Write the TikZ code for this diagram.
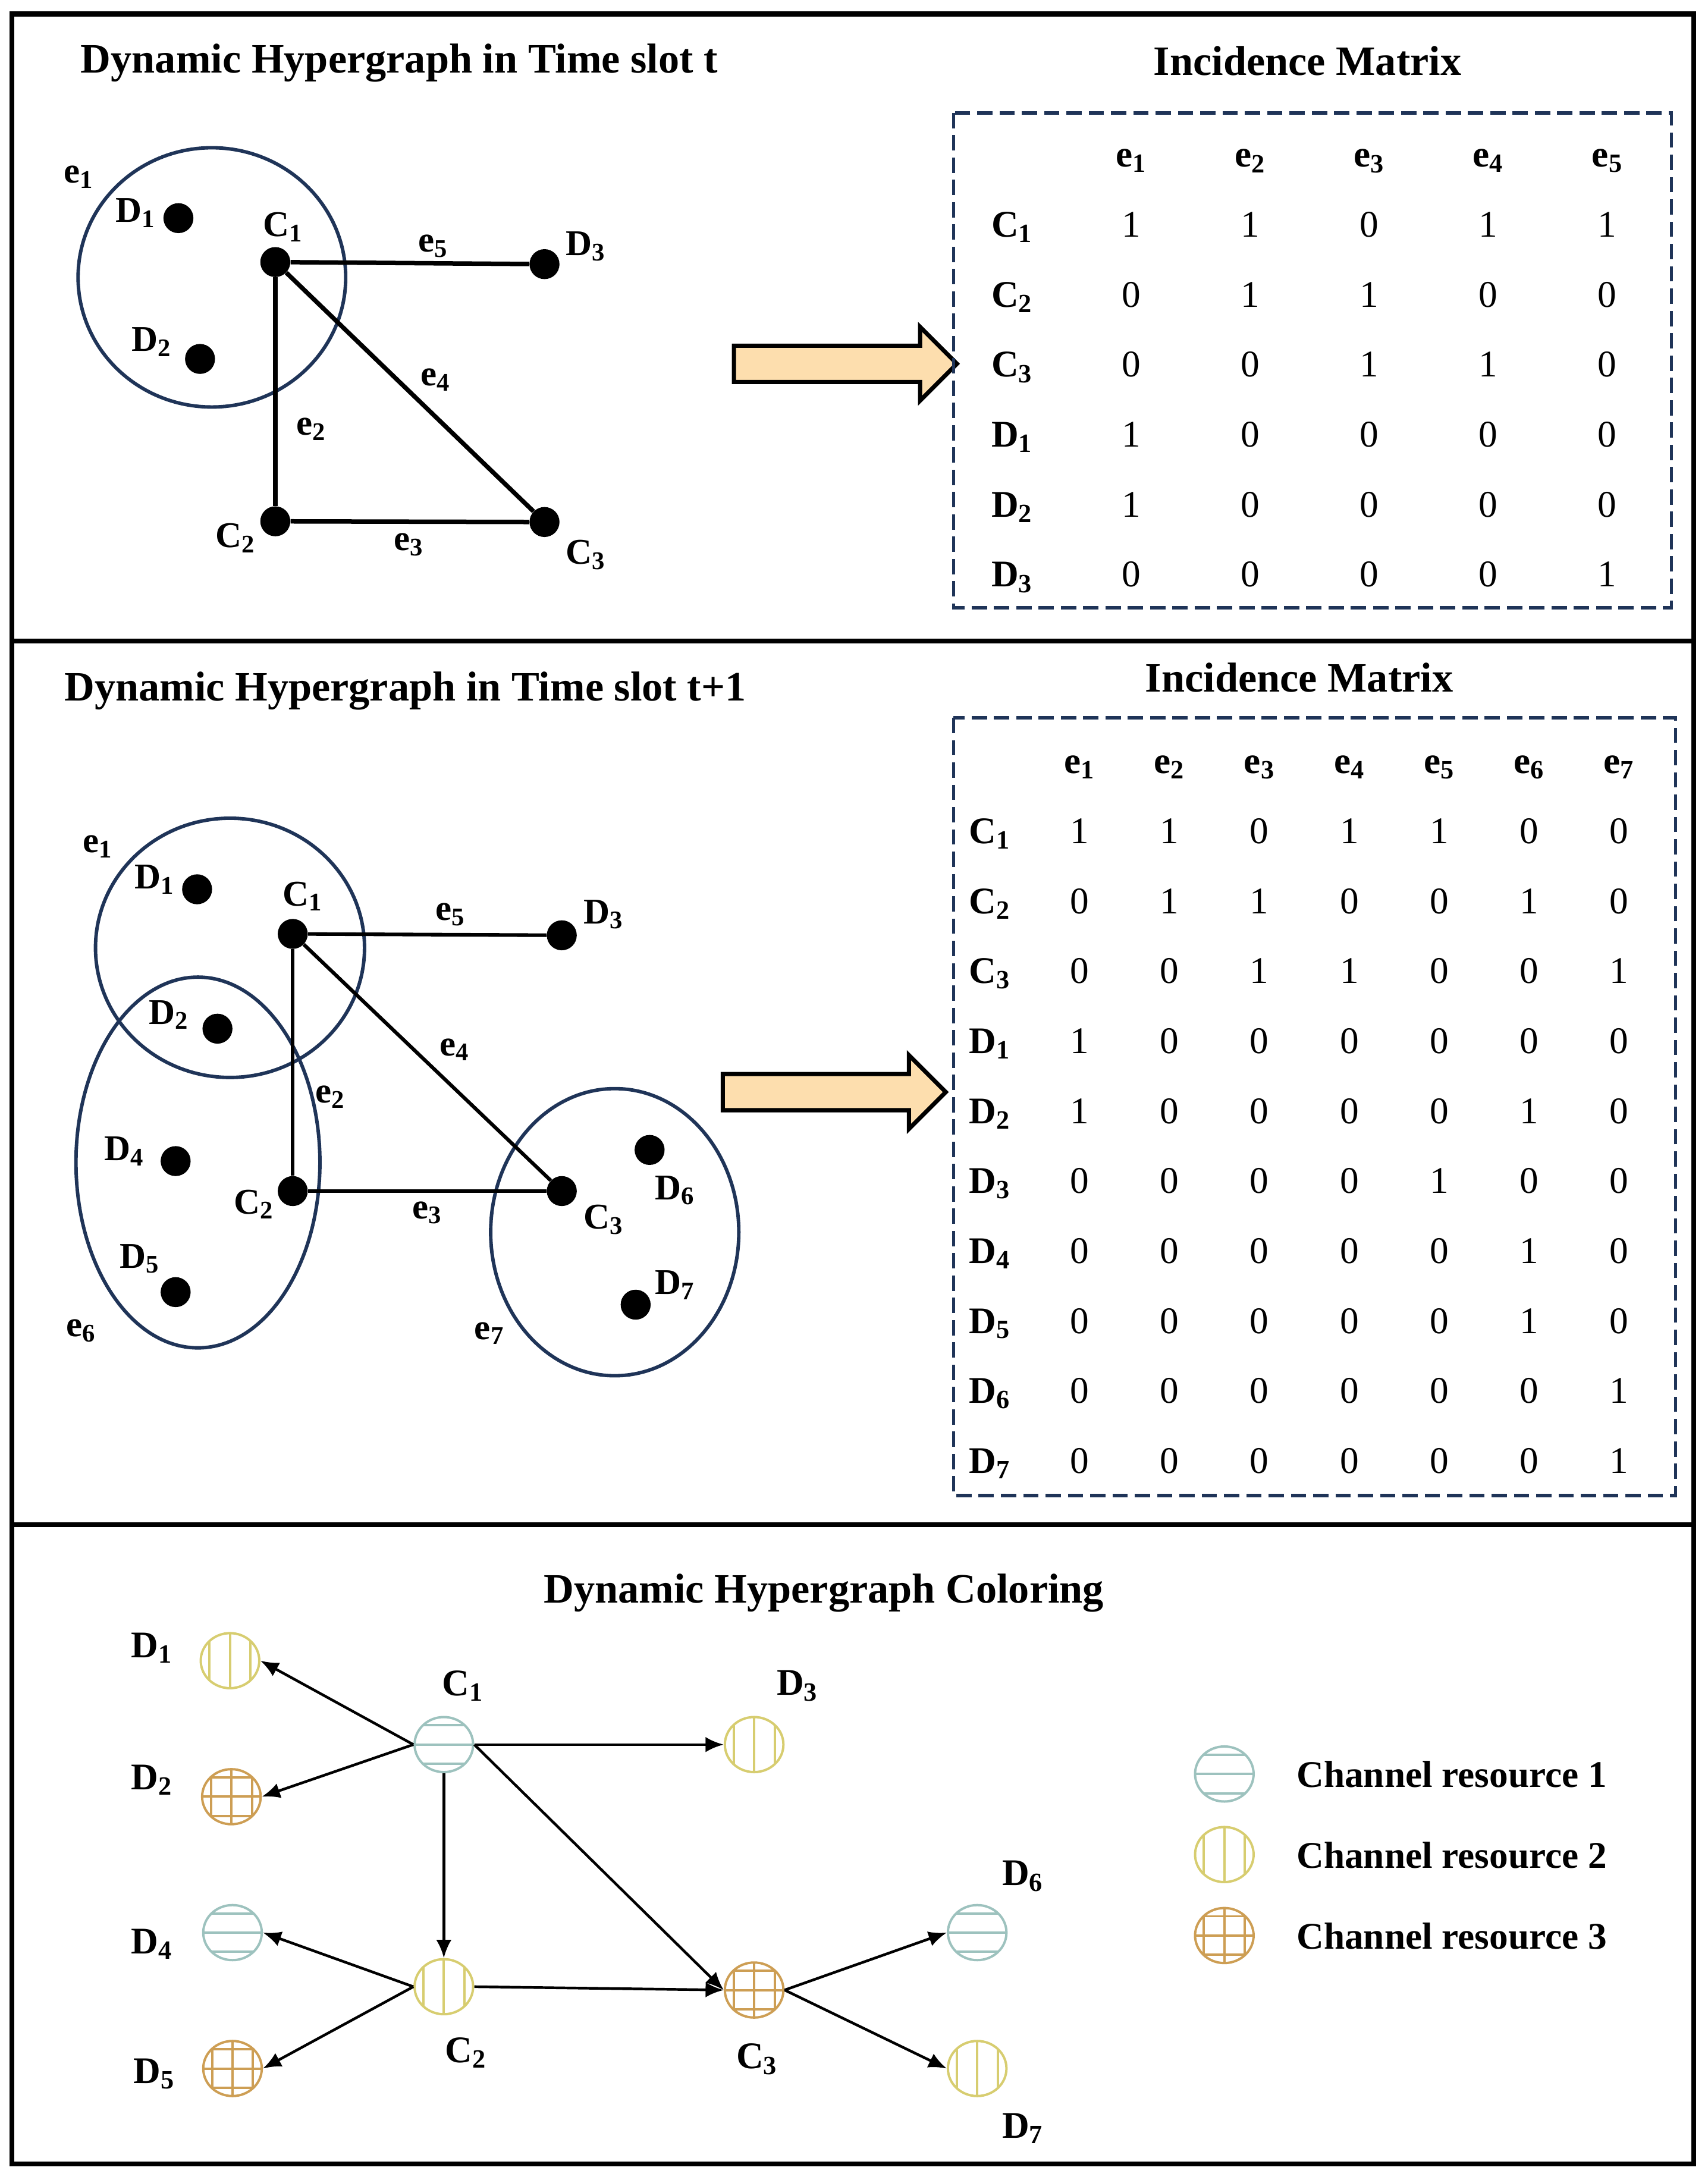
\documentclass[tikz,border=0pt]{standalone}
\usepackage{fontspec}
\setmainfont{Liberation Serif}
\usetikzlibrary{shapes.geometric, shapes.arrows, arrows.meta, matrix, calc}

\definecolor{hgnavy}{RGB}{31,52,88}
\definecolor{arrowfill}{RGB}{253,222,174}
\definecolor{resteal}{RGB}{157,194,190}
\definecolor{resyellow}{RGB}{215,205,112}
\definecolor{rescopper}{RGB}{205,158,84}

\newcommand{\lbl}[2]{#1\textsubscript{#2}}
\newcommand{\hbars}[1]{\foreach \fr in {0.15,0.5,0.85} \draw[#1, line width=1.7pt] ($(path picture bounding box.north west)!\fr!(path picture bounding box.south west)$) -- ($(path picture bounding box.north east)!\fr!(path picture bounding box.south east)$);}
\newcommand{\vbars}[1]{\foreach \fr in {0.15,0.5,0.85} \draw[#1, line width=1.7pt] ($(path picture bounding box.north west)!\fr!(path picture bounding box.north east)$) -- ($(path picture bounding box.south west)!\fr!(path picture bounding box.south east)$);}

\begin{document}
\begin{tikzpicture}[x=1pt, y=-1pt,
  panel/.style={draw, line width=3.5pt},
  ttl/.style={font=\fontsize{30}{32}\selectfont\bfseries, inner sep=0pt},
  lab/.style={font=\fontsize{26}{28}\selectfont\bfseries, inner sep=0pt},
  clab/.style={font=\fontsize{27}{29}\selectfont\bfseries, inner sep=0pt},
  dot/.style={circle, fill=black, minimum size=21.5pt, inner sep=0pt},
  link/.style={line width=#1},
  hyper/.style={draw=hgnavy, line width=2.5pt},
  dashbox/.style={draw=hgnavy, line width=2.3pt, dash pattern=on 11pt off 5pt},
  bigarrow/.style={single arrow, draw=black, fill=arrowfill, line width=3pt, minimum height=160pt, inner sep=0pt, inner ysep=11.5pt, single arrow head extend=13.5pt, single arrow head indent=0pt},
  imat/.style={matrix of nodes, anchor=center, row sep=0pt, column sep=0pt,
    nodes={font=\fontsize{27}{30}\selectfont, text height=19pt, text depth=7pt, inner sep=0pt, minimum width=#1, minimum height=50.2pt, anchor=center},
    row 1/.style={nodes={font=\fontsize{27}{30}\selectfont\bfseries}},
    column 1/.style={nodes={font=\fontsize{27}{30}\selectfont\bfseries}}},
  chan/.style={ellipse, draw=#1, line width=1.7pt, minimum width=42pt, minimum height=39.5pt, inner sep=0pt},
  resone/.style={chan=resteal, path picture={\hbars{resteal}}},
  restwo/.style={chan=resyellow, path picture={\vbars{resyellow}}},
  resthree/.style={chan=rescopper, path picture={\hbars{rescopper}\vbars{rescopper}}},
  flow/.style={-{Latex[length=13pt, width=11pt]}, line width=1.9pt}]

  \useasboundingbox (0,0) rectangle (1225,1564);

  % three panels
  \draw[panel] (8.6,10) rectangle (1215,460);
  \draw[panel] (8.6,460) rectangle (1215,1094);
  \draw[panel] (8.6,1094) rectangle (1215,1552.5);

  % ---------- time slot t ----------
  \node[ttl, anchor=west] (ttlA) at (57.8,45) {Dynamic Hypergraph in Time slot t};
  \node[ttl] (matA) at (938,43.5) {Incidence Matrix};

  \draw[hyper] (152,199) ellipse [x radius=96pt, y radius=93pt];

  \node[dot] (aD1) at (128,156.5) {};
  \node[dot] (aC1) at (197.5,188) {};
  \node[dot] (aD3) at (390.6,189.5) {};
  \node[dot] (aD2) at (143.5,257.5) {};
  \node[dot] (aC2) at (197.5,374) {};
  \node[dot] (aC3) at (390.6,374.5) {};

  \draw[link=3.2pt] (aC1) -- (aD3);
  \draw[link=3.2pt] (aC1) -- (aC2);
  \draw[link=3.2pt] (aC1) -- (aC3);
  \draw[link=3.2pt] (aC2) -- (aC3);

  \node[lab] (aE1l) at (56.6,127) {\lbl{e}{1}};
  \node[lab] (aD1l) at (97,152.6) {\lbl{D}{1}};
  \node[lab] (aC1l) at (203,163) {\lbl{C}{1}};
  \node[lab] (aE5l) at (310.5,176.6) {\lbl{e}{5}};
  \node[lab] (aD3l) at (420,176.6) {\lbl{D}{3}};
  \node[lab] (aD2l) at (108.6,245.4) {\lbl{D}{2}};
  \node[lab] (aE4l) at (312.5,272.4) {\lbl{e}{4}};
  \node[lab] (aE2l) at (223.4,308) {\lbl{e}{2}};
  \node[lab] (aC2l) at (168.8,386) {\lbl{C}{2}};
  \node[lab] (aE3l) at (293,390.6) {\lbl{e}{3}};
  \node[lab] (aC3l) at (420,398) {\lbl{C}{3}};

  \node[bigarrow] (arrA) at (600,261) {};

  \draw[dashbox] (684,81) rectangle (1199,436);
  \matrix (mA) [imat=85.4pt] at (939.5,264.4) {
     & \lbl{e}{1} & \lbl{e}{2} & \lbl{e}{3} & \lbl{e}{4} & \lbl{e}{5} \\
    \lbl{C}{1} & 1 & 1 & 0 & 1 & 1 \\
    \lbl{C}{2} & 0 & 1 & 1 & 0 & 0 \\
    \lbl{C}{3} & 0 & 0 & 1 & 1 & 0 \\
    \lbl{D}{1} & 1 & 0 & 0 & 0 & 0 \\
    \lbl{D}{2} & 1 & 0 & 0 & 0 & 0 \\
    \lbl{D}{3} & 0 & 0 & 0 & 0 & 1 \\
  };

  % ---------- time slot t+1 ----------
  \node[ttl, anchor=west] (ttlB) at (46,495.5) {Dynamic Hypergraph in Time slot t+1};
  \node[ttl] (matB) at (932,486) {Incidence Matrix};

  \draw[hyper] (165,680) ellipse [x radius=96.5pt, y radius=93pt];
  \draw[hyper] (142,834) ellipse [x radius=87.5pt, y radius=133pt];
  \draw[hyper] (441,884) ellipse [x radius=89pt, y radius=103pt];

  \node[dot] (bD1) at (141.4,638) {};
  \node[dot] (bC1) at (210,670) {};
  \node[dot] (bD3) at (403,671) {};
  \node[dot] (bD2) at (156,738) {};
  \node[dot] (bD4) at (126,833) {};
  \node[dot] (bC2) at (210,854.5) {};
  \node[dot] (bC3) at (403,854.5) {};
  \node[dot] (bD6) at (466,825) {};
  \node[dot] (bD5) at (126,927) {};
  \node[dot] (bD7) at (456,936) {};

  \draw[link=2.6pt] (bC1) -- (bD3);
  \draw[link=2.6pt] (bC1) -- (bC2);
  \draw[link=2.6pt] (bC1) -- (bC3);
  \draw[link=2.6pt] (bC2) -- (bC3);

  \node[lab] (bE1l) at (70,607.5) {\lbl{e}{1}};
  \node[lab] (bD1l) at (111,631) {\lbl{D}{1}};
  \node[lab] (bC1l) at (217,643) {\lbl{C}{1}};
  \node[lab] (bE5l) at (323,656) {\lbl{e}{5}};
  \node[lab] (bD3l) at (433,656) {\lbl{D}{3}};
  \node[lab] (bD2l) at (121,728) {\lbl{D}{2}};
  \node[lab] (bE4l) at (326,753) {\lbl{e}{4}};
  \node[lab] (bE2l) at (237,787) {\lbl{e}{2}};
  \node[lab] (bD4l) at (89,826) {\lbl{D}{4}};
  \node[lab] (bC2l) at (182,864) {\lbl{C}{2}};
  \node[lab] (bE3l) at (306.6,870) {\lbl{e}{3}};
  \node[lab] (bC3l) at (433,875) {\lbl{C}{3}};
  \node[lab] (bD6l) at (484,854) {\lbl{D}{6}};
  \node[lab] (bD5l) at (100,903) {\lbl{D}{5}};
  \node[lab] (bD7l) at (484,922) {\lbl{D}{7}};
  \node[lab] (bE6l) at (58,954.6) {\lbl{e}{6}};
  \node[lab] (bE7l) at (351,956.6) {\lbl{e}{7}};

  \node[bigarrow] (arrB) at (592,783.5) {};

  \draw[dashbox] (684,515) rectangle (1202,1073);
  \matrix (mB) [imat=64.5pt] at (935.7,799.9) {
     & \lbl{e}{1} & \lbl{e}{2} & \lbl{e}{3} & \lbl{e}{4} & \lbl{e}{5} & \lbl{e}{6} & \lbl{e}{7} \\
    \lbl{C}{1} & 1 & 1 & 0 & 1 & 1 & 0 & 0 \\
    \lbl{C}{2} & 0 & 1 & 1 & 0 & 0 & 1 & 0 \\
    \lbl{C}{3} & 0 & 0 & 1 & 1 & 0 & 0 & 1 \\
    \lbl{D}{1} & 1 & 0 & 0 & 0 & 0 & 0 & 0 \\
    \lbl{D}{2} & 1 & 0 & 0 & 0 & 0 & 1 & 0 \\
    \lbl{D}{3} & 0 & 0 & 0 & 0 & 1 & 0 & 0 \\
    \lbl{D}{4} & 0 & 0 & 0 & 0 & 0 & 1 & 0 \\
    \lbl{D}{5} & 0 & 0 & 0 & 0 & 0 & 1 & 0 \\
    \lbl{D}{6} & 0 & 0 & 0 & 0 & 0 & 0 & 1 \\
    \lbl{D}{7} & 0 & 0 & 0 & 0 & 0 & 0 & 1 \\
  };

  % ---------- coloring ----------
  \node[ttl] (ttlC) at (591,1143) {Dynamic Hypergraph Coloring};

  \node[restwo] (cD1) at (165,1191.4) {};
  \node[resthree] (cD2) at (166,1289) {};
  \node[resone] (cC1) at (318.4,1251.6) {};
  \node[restwo] (cD3) at (541,1251.6) {};
  \node[resone] (cD4) at (166.8,1386.5) {};
  \node[restwo] (cC2) at (318.4,1425.3) {};
  \node[resthree] (cC3) at (541,1427.7) {};
  \node[resthree] (cD5) at (166.8,1484) {};
  \node[resone] (cD6) at (701,1386.5) {};
  \node[restwo] (cD7) at (701,1484) {};

  \draw[flow] (cC1.west) -- (cD1.east);
  \draw[flow] (cC1.west) -- (cD2.east);
  \draw[flow] (cC1.east) -- (cD3.west);
  \draw[flow] (cC1.south) -- (cC2.north);
  \draw[flow] (cC1.east) -- (cC3.west);
  \draw[flow] (cC2.west) -- (cD4.east);
  \draw[flow] (cC2.west) -- (cD5.east);
  \draw[flow] (cC2.east) -- (cC3.west);
  \draw[flow] (cC3.east) -- (cD6.west);
  \draw[flow] (cC3.east) -- (cD7.west);

  \node[clab] (cD1l) at (109,1182.4) {\lbl{D}{1}};
  \node[clab] (cD2l) at (109,1277) {\lbl{D}{2}};
  \node[clab] (cC1l) at (332,1209.5) {\lbl{C}{1}};
  \node[clab] (cD3l) at (572,1209.5) {\lbl{D}{3}};
  \node[clab] (cD4l) at (109,1394.6) {\lbl{D}{4}};
  \node[clab] (cC2l) at (334,1472.8) {\lbl{C}{2}};
  \node[clab] (cC3l) at (543,1477.3) {\lbl{C}{3}};
  \node[clab] (cD5l) at (110.5,1487.8) {\lbl{D}{5}};
  \node[clab] (cD6l) at (733.7,1346) {\lbl{D}{6}};
  \node[clab] (cD7l) at (733.7,1527) {\lbl{D}{7}};

  % legend
  \node[resone] (lgA) at (878.3,1272.7) {};
  \node[restwo] (lgB) at (878.3,1330.5) {};
  \node[resthree] (lgC) at (878.3,1388.6) {};
  \node[clab, anchor=west] (lgAt) at (930,1273) {Channel resource 1};
  \node[clab, anchor=west] (lgBt) at (930,1331) {Channel resource 2};
  \node[clab, anchor=west] (lgCt) at (930,1389) {Channel resource 3};
\end{tikzpicture}
\end{document}
